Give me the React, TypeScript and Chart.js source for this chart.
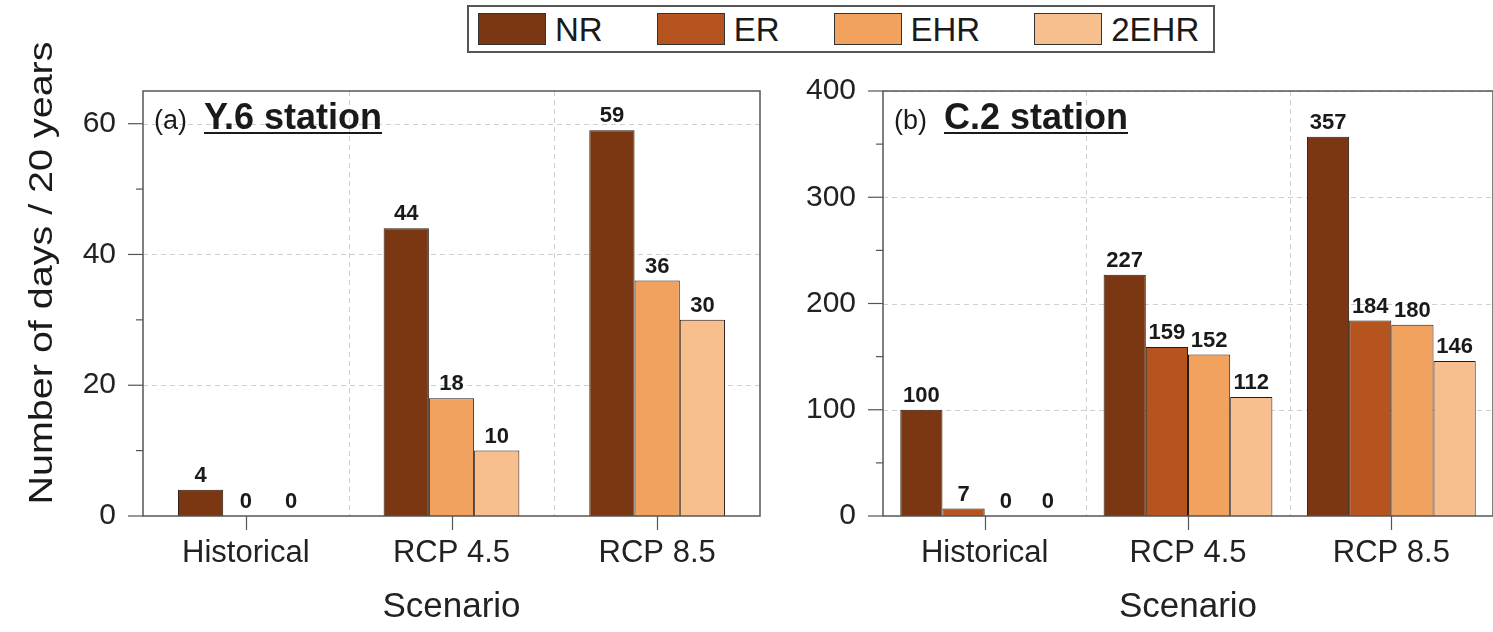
import React, { useEffect, useRef } from "react";
import { Chart, registerables } from "chart.js";
Chart.register(...registerables);

const FONT = "'Liberation Sans', Arial, Helvetica, sans-serif";

const categories = ["Historical", "RCP 4.5", "RCP 8.5"];
const seriesNames = ["NR", "ER", "EHR", "2EHR"];
const seriesColors = ["#7b3712", "#b5541f", "#f2a25f", "#f7bf8e"];

// Panel (a) Y.6 station (NR, EHR, 2EHR)
const y6NR = [4, 44, 59];
const y6EHR = [0, 18, 36];
const y6TwoEHR = [0, 10, 30];

// Panel (b) C.2 station (NR, ER, EHR, 2EHR)
const c2NR = [100, 227, 357];
const c2ER = [7, 159, 184];
const c2EHR = [0, 152, 180];
const c2TwoEHR = [0, 112, 146];

const yTitle = "Number of days / 20 years";
const xTitle = "Scenario";

function decorPlugin(panelLabel: string, panelTitle: string, showYTitle: boolean) {
  return {
    id: "decor",
    beforeDatasetsDraw(chart: any) {
      const { ctx, chartArea: a, scales } = chart;
      const x = scales.x, y = scales.y;
      ctx.save();
      ctx.strokeStyle = "#cfcfcf";
      ctx.lineWidth = 1;
      ctx.setLineDash([5, 4]);
      y.ticks.forEach((t: any) => {
        if (t.value <= 0) return;
        const py = Math.round(y.getPixelForValue(t.value)) + 0.5;
        ctx.beginPath(); ctx.moveTo(a.left, py); ctx.lineTo(a.right, py); ctx.stroke();
      });
      for (let i = 0; i < categories.length - 1; i++) {
        const px = Math.round((x.getPixelForValue(i) + x.getPixelForValue(i + 1)) / 2) + 0.5;
        ctx.beginPath(); ctx.moveTo(px, a.top); ctx.lineTo(px, a.bottom); ctx.stroke();
      }
      ctx.restore();
    },
    afterDatasetsDraw(chart: any) {
      const { ctx } = chart;
      ctx.save();
      ctx.font = `bold 22px ${FONT}`;
      ctx.fillStyle = "#1a1a1a";
      ctx.textAlign = "center";
      ctx.textBaseline = "bottom";
      chart.data.datasets.forEach((ds: any, di: number) => {
        const meta = chart.getDatasetMeta(di);
        meta.data.forEach((el: any, i: number) => {
          ctx.fillText(String(ds.data[i]), el.x, el.y - 3);
        });
      });
      ctx.restore();
    },
    afterDraw(chart: any) {
      const { ctx, chartArea: a, scales } = chart;
      const x = scales.x, y = scales.y;
      ctx.save();
      ctx.strokeStyle = "#555";
      ctx.lineWidth = 1.5;
      ctx.setLineDash([]);
      ctx.strokeRect(a.left, a.top, a.right - a.left, a.bottom - a.top);
      ctx.lineWidth = 1.2;
      // y major ticks
      const vals = y.ticks.map((t: any) => t.value);
      vals.forEach((v: number) => {
        const py = y.getPixelForValue(v);
        ctx.beginPath(); ctx.moveTo(a.left - 15, py); ctx.lineTo(a.left, py); ctx.stroke();
      });
      // y minor ticks
      for (let i = 0; i < vals.length - 1; i++) {
        const py = y.getPixelForValue((vals[i] + vals[i + 1]) / 2);
        ctx.beginPath(); ctx.moveTo(a.left - 7, py); ctx.lineTo(a.left, py); ctx.stroke();
      }
      // x ticks
      categories.forEach((_c, i) => {
        const px = Math.round(x.getPixelForValue(i)) + 0.5;
        ctx.beginPath(); ctx.moveTo(px, a.bottom); ctx.lineTo(px, a.bottom + 14); ctx.stroke();
      });
      // panel title
      ctx.fillStyle = "#1a1a1a";
      ctx.textBaseline = "alphabetic";
      ctx.textAlign = "left";
      ctx.font = `27px ${FONT}`;
      const lx = a.left + 11;
      const by = a.top + 38;
      ctx.fillText(panelLabel, lx, by);
      ctx.font = `bold 36px ${FONT}`;
      const tx = a.left + 61;
      ctx.fillText(panelTitle, tx, by);
      const tw = ctx.measureText(panelTitle).width;
      ctx.lineWidth = 2;
      ctx.strokeStyle = "#1a1a1a";
      ctx.beginPath(); ctx.moveTo(tx, by + 4); ctx.lineTo(tx + tw, by + 4); ctx.stroke();
      // y title
      if (showYTitle) {
        ctx.translate(43, 273);
        ctx.rotate(-Math.PI / 2);
        ctx.font = `33px ${FONT}`;
        const w = ctx.measureText(yTitle).width;
        ctx.scale(463 / w, 1);
        ctx.textAlign = "center";
        ctx.textBaseline = "middle";
        ctx.fillStyle = "#1a1a1a";
        ctx.fillText(yTitle, 0, 0);
      }
      ctx.restore();
    },
  };
}

function makeConfig(opts: {
  datasets: { label: string; data: number[]; color: string }[];
  yMax: number;
  yStep: number;
  yWidth: number;
  padRight: number;
  catPct: number;
  panelLabel: string;
  panelTitle: string;
  showYTitle: boolean;
}): any {
  return {
    type: "bar",
    data: {
      labels: categories,
      datasets: opts.datasets.map((d) => ({
        label: d.label,
        data: d.data,
        backgroundColor: d.color,
        borderColor: "#2a1a10",
        borderWidth: 1,
        categoryPercentage: opts.catPct,
        barPercentage: 1,
      })),
    },
    options: {
      responsive: false,
      animation: false,
      devicePixelRatio: 1,
      layout: { padding: { top: 91, right: opts.padRight, left: 0, bottom: 0 } },
      plugins: { legend: { display: false }, tooltip: { enabled: false } },
      scales: {
        x: {
          type: "category",
          offset: true,
          grid: { display: false, drawTicks: false },
          border: { display: false },
          ticks: { color: "#222", font: { family: FONT, size: 31 }, padding: 19, maxRotation: 0, autoSkip: false },
          title: { display: true, text: xTitle, color: "#222", font: { family: FONT, size: 35 }, padding: { top: 0, bottom: 4 } },
          afterFit: (s: any) => { s.height = 116; },
        },
        y: {
          type: "linear",
          min: 0,
          max: opts.yMax,
          grid: { display: false, drawTicks: false },
          border: { display: false },
          ticks: { stepSize: opts.yStep, includeBounds: false, color: "#222", font: { family: FONT, size: 30 }, padding: 27 },
          afterFit: (s: any) => { s.width = opts.yWidth; },
        },
      },
    },
    plugins: [decorPlugin(opts.panelLabel, opts.panelTitle, opts.showYTitle)],
  };
}

export default function App() {
  const refA = useRef<HTMLCanvasElement>(null);
  const refB = useRef<HTMLCanvasElement>(null);

  useEffect(() => {
    const chartA = new Chart(refA.current!, makeConfig({
      datasets: [
        { label: "NR", data: y6NR, color: seriesColors[0] },
        { label: "EHR", data: y6EHR, color: seriesColors[2] },
        { label: "2EHR", data: y6TwoEHR, color: seriesColors[3] },
      ],
      yMax: 65,
      yStep: 20,
      yWidth: 143,
      padRight: 15,
      catPct: 0.66,
      panelLabel: "(a)",
      panelTitle: "Y.6 station",
      showYTitle: true,
    }));
    const chartB = new Chart(refB.current!, makeConfig({
      datasets: [
        { label: "NR", data: c2NR, color: seriesColors[0] },
        { label: "ER", data: c2ER, color: seriesColors[1] },
        { label: "EHR", data: c2EHR, color: seriesColors[2] },
        { label: "2EHR", data: c2TwoEHR, color: seriesColors[3] },
      ],
      yMax: 400,
      yStep: 100,
      yWidth: 113,
      padRight: 0,
      catPct: 0.83,
      panelLabel: "(b)",
      panelTitle: "C.2 station",
      showYTitle: false,
    }));
    return () => { chartA.destroy(); chartB.destroy(); };
  }, []);

  return (
    <div style={{ position: "absolute", left: 0, top: 0, width: 1493, height: 632, background: "#fff", overflow: "hidden", fontFamily: FONT }}>
      <canvas ref={refA} width={775} height={632} style={{ position: "absolute", left: 0, top: 0, width: 775, height: 632 }} />
      <canvas ref={refB} width={723} height={632} style={{ position: "absolute", left: 770, top: 0, width: 723, height: 632 }} />
      <div style={{ position: "absolute", left: 467, top: 5, width: 748, height: 48, border: "2px solid #555", boxSizing: "border-box", display: "flex", alignItems: "center", paddingLeft: 9, background: "#fff", color: "#1a1a1a", fontSize: 33 }}>
        {seriesNames.map((n, i) => (
          <div key={n} style={{ display: "flex", alignItems: "center", marginRight: 54 }}>
            <span style={{ display: "inline-block", width: 68, height: 32, background: seriesColors[i], border: "1px solid #333", boxSizing: "border-box", marginRight: 9 }} />
            <span style={{ lineHeight: 1 }}>{n}</span>
          </div>
        ))}
      </div>
    </div>
  );
}
